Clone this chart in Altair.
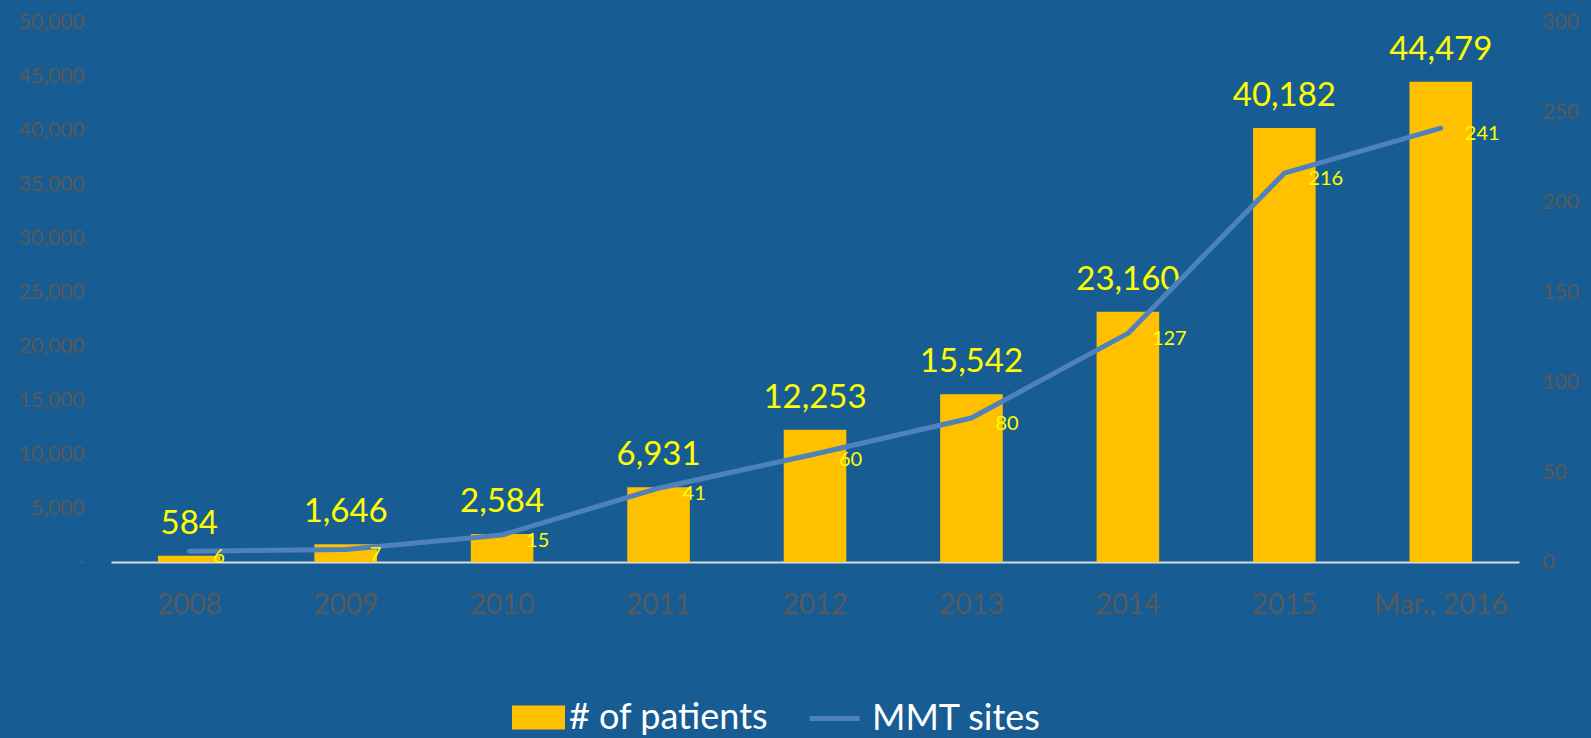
import altair as alt
import pandas as pd
import jinja2

years = ["2008", "2009", "2010", "2011", "2012", "2013", "2014", "2015", "Mar., 2016"]
patients = [584, 1646, 2584, 6931, 12253, 15542, 23160, 40182, 44479]
sites = [6, 7, 15, 41, 60, 80, 127, 216, 241]
series_names = ["# of patients", "MMT sites"]

df = pd.DataFrame({"year": years, "patients": patients, "sites": sites})

BG = "#175D94"
GRAY = "#595959"
YEL = "#FFFF00"
FONT = "Lato"

PAGE = jinja2.Template("""<!DOCTYPE html>
<html>
<head>
  <meta charset="utf-8">
  <style>
    html, body { margin: 0; padding: 0; background: """ + BG + """; overflow: hidden; }
    #{{ output_div }}.vega-embed { width: 100%; display: flex; }
  </style>
  <script type="text/javascript" src="{{ base_url }}/vega@{{ vega_version }}"></script>
  <script type="text/javascript" src="{{ base_url }}/vega-lite@{{ vegalite_version }}"></script>
  <script type="text/javascript" src="{{ base_url }}/vega-embed@{{ vegaembed_version }}"></script>
</head>
<body>
  <div id="{{ output_div }}"></div>
  <script type="text/javascript">
    (function(vegaEmbed) {
      var spec = {{ spec }};
      var embedOpt = {{ embed_options }};
      vegaEmbed("#{{ output_div }}", spec, embedOpt).catch(function(err) { console.error(err); });
    })(vegaEmbed);
  </script>
</body>
</html>
""")

X = alt.X(
    "year:N",
    sort=years,
    title=None,
    scale=alt.Scale(paddingInner=0.6, paddingOuter=0.3),
    axis=alt.Axis(
        labelAngle=0, labelFont=FONT, labelFontSize=28, labelColor=GRAY,
        labelPadding=29, ticks=False, domainColor="#D9D9D9", domainWidth=2,
        grid=False,
    ),
)

bars = alt.Chart().mark_bar(color="#FFC000").transform_calculate(
    series=f"'{series_names[0]}'"
).encode(
    fill=alt.Fill(
        "series:N",
        scale=alt.Scale(range=["#FFC000"]),
        legend=alt.Legend(
            title=None, orient="none", legendX=401, legendY=669,
            symbolType="M-1,-0.453H1V0.453H-1Z", symbolSize=2809,
            symbolStrokeWidth=0, labelFont=FONT, labelFontSize=36,
            labelColor="white", labelOffset=4, labelLimit=400,
        ),
    )
)

btext = alt.Chart().mark_text(
    font=FONT, fontSize=33, color=YEL, baseline="alphabetic", dy=-22
).encode(text=alt.Text("patients:Q", format=","))

left = alt.layer(bars, btext).encode(
    x=X,
    y=alt.Y(
        "patients:Q",
        title=None,
        scale=alt.Scale(domain=[0, 50000], nice=False),
        axis=alt.Axis(
            orient="left", values=list(range(0, 50001, 5000)),
            labelExpr="datum.value == 0 ? '-\u00a0\u00a0' : format(datum.value, ',')",
            labelFont=FONT, labelFontSize=21, labelColor=GRAY,
            labelPadding=27, ticks=False, domain=False, grid=False,
        ),
    ),
)

line = alt.Chart().mark_line(
    strokeWidth=5, strokeCap="round", strokeJoin="round"
).transform_calculate(
    series=f"'{series_names[1]}'"
).encode(
    stroke=alt.Stroke(
        "series:N",
        scale=alt.Scale(range=["#4F81BD"]),
        legend=alt.Legend(
            title=None, orient="none", legendX=696, legendY=669,
            symbolType="stroke", symbolSize=2500, symbolStrokeWidth=5,
            labelFont=FONT, labelFontSize=36, labelColor="white",
            labelOffset=10, labelLimit=400,
        ),
    )
)

ltext = alt.Chart().mark_text(
    font=FONT, fontSize=20, color=YEL, align="left", baseline="middle",
    dx=24, dy=6,
).encode(text=alt.Text("sites:Q"))

right = alt.layer(line, ltext).encode(
    x=X,
    y=alt.Y(
        "sites:Q",
        title=None,
        scale=alt.Scale(domain=[0, 300], nice=False),
        axis=alt.Axis(
            orient="right", values=list(range(0, 301, 50)),
            labelFont=FONT, labelFontSize=21, labelColor=GRAY,
            labelPadding=23, ticks=False, domain=False, grid=False,
        ),
    ),
)

chart = alt.layer(left, right, data=df).resolve_scale(
    y="independent"
).properties(
    width=1408,
    height=540,
    padding={"left": 111, "top": 22, "right": 72, "bottom": 176},
    autosize=alt.AutoSizeParams(type="none"),
    background=BG,
).configure_view(stroke=None)

chart.save("out.html", embed_options={"renderer": "svg", "actions": False}, template=PAGE)
